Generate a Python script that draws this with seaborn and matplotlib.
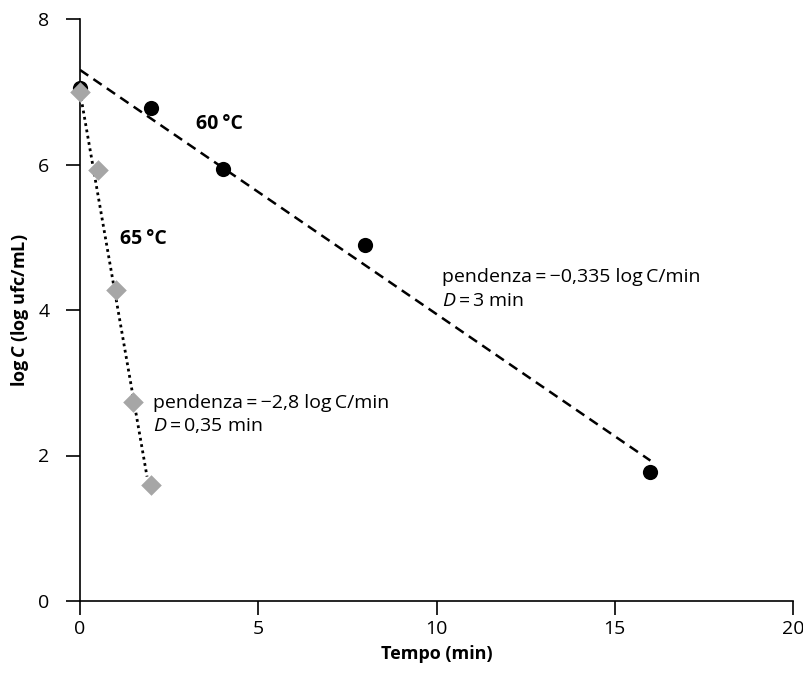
import matplotlib
matplotlib.use("Agg")
import matplotlib.pyplot as plt
import seaborn as sns
import pandas as pd
import numpy as np

# Data
t60 = [0, 2, 4, 8, 16]
logc60 = [7.05, 6.77, 5.94, 4.9, 1.78]
t65 = [0, 0.5, 1.0, 1.5, 2.0]
logc65 = [7.0, 5.92, 4.28, 2.73, 1.6]
fit60_t = [0, 16.0]
fit60_y = [7.3, 1.93]
fit65_t = [0, 1.88]
fit65_y = [7.0, 1.71]
xticks = [0, 5, 10, 15, 20]
yticks = [0, 2, 4, 6, 8]

sns.set_theme(style="white")
FONT = "Open Sans"
plt.rcParams["font.family"] = [FONT, "DejaVu Sans"]
plt.rcParams["mathtext.fontset"] = "custom"
plt.rcParams["mathtext.it"] = f"{FONT}:italic"
plt.rcParams["mathtext.bf"] = f"{FONT}:bold"
plt.rcParams["mathtext.bfit"] = f"{FONT}:italic:bold"
plt.rcParams["mathtext.rm"] = FONT
plt.rcParams["text.color"] = "black"
plt.rcParams["axes.labelcolor"] = "black"
plt.rcParams["xtick.color"] = "black"
plt.rcParams["ytick.color"] = "black"

fig = plt.figure(figsize=(8.04, 6.75), dpi=100)
ax = fig.add_axes([80/804, 74/675, 713/804, 582/675])

df60 = pd.DataFrame({"t": t60, "y": logc60})
df65 = pd.DataFrame({"t": t65, "y": logc65})
f60 = pd.DataFrame({"t": fit60_t, "y": fit60_y})
f65 = pd.DataFrame({"t": fit65_t, "y": fit65_y})

sns.lineplot(data=f60, x="t", y="y", ax=ax, color="black", lw=1.8,
             linestyle=(0, (4, 2.5)), zorder=2)
sns.lineplot(data=f65, x="t", y="y", ax=ax, color="black", lw=2.0,
             linestyle=(0, (1, 1.3)), zorder=2)
sns.scatterplot(data=df60, x="t", y="y", ax=ax, color="black", s=120,
                marker="o", edgecolor="black", linewidth=0, zorder=3, clip_on=False)
sns.scatterplot(data=df65, x="t", y="y", ax=ax, color="#a6a6a6", s=110,
                marker="D", edgecolor="#a6a6a6", linewidth=0, zorder=4, clip_on=False)

ax.set_xlim(0, 20)
ax.set_ylim(0, 8)
ax.set_xticks(xticks)
ax.set_yticks(yticks)
ax.tick_params(axis="both", direction="out", length=10, width=1.2, color="black",
               labelcolor="black", labelsize=14, bottom=True, left=True)
ax.tick_params(axis="y", pad=12)
ax.tick_params(axis="x", pad=4)
for s in ["top", "right"]:
    ax.spines[s].set_visible(False)
for s in ["left", "bottom"]:
    ax.spines[s].set_color("black")
    ax.spines[s].set_linewidth(1.2)

ax.set_xlabel("Tempo (min)", fontsize=13, fontweight="bold", labelpad=5, color="black")
ax.set_ylabel(r"log$\,\mathbfit{C}$ (log ufc/mL)", fontsize=13, fontweight="bold",
              labelpad=5, color="black")

ts = "\u2009"
ax.text(3.25, 6.55, f"60{ts}°C", fontsize=14, fontweight="bold", va="center", ha="left")
ax.text(1.12, 4.97, f"65{ts}°C", fontsize=14, fontweight="bold", va="center", ha="left")
ax.text(10.15, 4.45, f"pendenza{ts}={ts}\u22120,335 log{ts}C/min", fontsize=14, va="center", ha="left")
ax.text(10.15, 4.13, r"$\mathit{D}$" + f"{ts}={ts}3 min", fontsize=14, va="center", ha="left")
ax.text(2.05, 2.72, f"pendenza{ts}={ts}\u22122,8 log{ts}C/min", fontsize=14, va="center", ha="left")
ax.text(2.05, 2.41, r"$\mathit{D}$" + f"{ts}={ts}0,35 min", fontsize=14, va="center", ha="left")

fig.savefig("out.png", dpi=100)
